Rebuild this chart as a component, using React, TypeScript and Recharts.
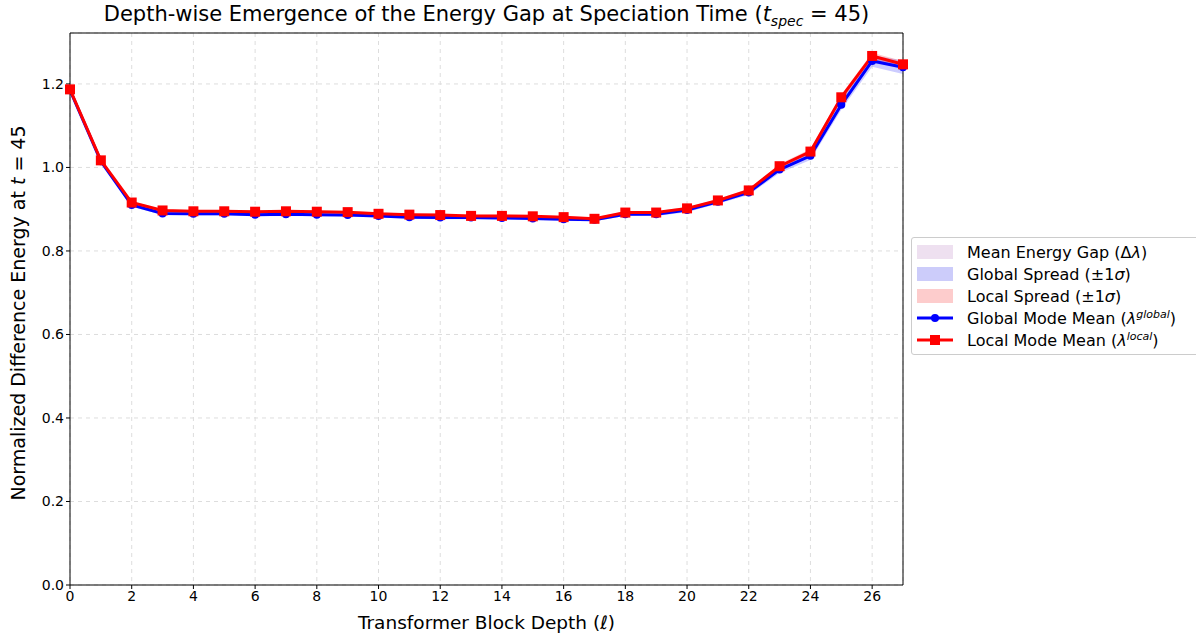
import React from "react"
import {
  Area,
  CartesianGrid,
  ComposedChart,
  Line,
  ReferenceLine,
  XAxis,
  YAxis,
} from "recharts"

const depths = [0, 1, 2, 3, 4, 5, 6, 7, 8, 9, 10, 11, 12, 13, 14, 15, 16, 17, 18, 19, 20, 21, 22, 23, 24, 25, 26, 27]
const globalMean = [1.185, 1.015, 0.91, 0.89, 0.889, 0.889, 0.887, 0.888, 0.887, 0.886, 0.884, 0.881, 0.88, 0.88, 0.879, 0.878, 0.876, 0.875, 0.888, 0.888, 0.898, 0.918, 0.94, 0.995, 1.028, 1.15, 1.255, 1.24]
const localMean = [1.187, 1.017, 0.916, 0.897, 0.895, 0.895, 0.894, 0.895, 0.894, 0.893, 0.889, 0.887, 0.886, 0.884, 0.884, 0.883, 0.881, 0.877, 0.892, 0.892, 0.902, 0.921, 0.945, 1.003, 1.038, 1.168, 1.267, 1.247]
const globalStd = [0.004, 0.004, 0.004, 0.004, 0.004, 0.004, 0.004, 0.004, 0.004, 0.004, 0.004, 0.004, 0.004, 0.004, 0.004, 0.004, 0.004, 0.004, 0.004, 0.004, 0.005, 0.005, 0.006, 0.008, 0.01, 0.012, 0.014, 0.016]
const localStd = [0.003, 0.003, 0.003, 0.003, 0.003, 0.003, 0.003, 0.003, 0.003, 0.003, 0.003, 0.003, 0.003, 0.003, 0.003, 0.003, 0.003, 0.003, 0.003, 0.003, 0.003, 0.003, 0.004, 0.005, 0.006, 0.007, 0.008, 0.008]
const xTicks = [0, 2, 4, 6, 8, 10, 12, 14, 16, 18, 20, 22, 24, 26]
const yTicks = [0, 0.2, 0.4, 0.6, 0.8, 1.0, 1.2]

const data = depths.map((d, i) => ({
  depth: d,
  global: globalMean[i],
  local: localMean[i],
  gap: [Math.min(globalMean[i], localMean[i]), Math.max(globalMean[i], localMean[i])],
  globalBand: [globalMean[i] - globalStd[i], globalMean[i] + globalStd[i]],
  localBand: [localMean[i] - localStd[i], localMean[i] + localStd[i]],
}))

const font = "'DejaVu Sans', sans-serif"

const SquareDot = (props: any) => {
  const { cx, cy } = props
  if (cx == null || cy == null) return null
  return <rect x={cx - 5} y={cy - 5} width={10} height={10} fill="#ff0000" />
}

const legendItems = [
  { kind: "patch", color: "#eee0f0", label: <>Mean Energy Gap (Δ<i>λ</i>)</> },
  { kind: "patch", color: "#ccccfa", label: <>Global Spread (±1<i>σ</i>)</> },
  { kind: "patch", color: "#fdcccc", label: <>Local Spread (±1<i>σ</i>)</> },
  { kind: "circle", color: "#0000ff", label: <>Global Mode Mean (<i>λ</i><sup style={{ fontSize: 11 }}><i>global</i></sup>)</> },
  { kind: "square", color: "#ff0000", label: <>Local Mode Mean (<i>λ</i><sup style={{ fontSize: 11 }}><i>local</i></sup>)</> },
]

const LegendBox = () => (
  <div
    style={{
      position: "absolute",
      left: 911,
      top: 237,
      width: 300,
      height: 113,
      border: "1px solid #cccccc",
      borderRadius: 3,
      background: "#fff",
      padding: "3px 0 0 5px",
      fontFamily: font,
      fontSize: 16,
      color: "#000",
    }}
  >
    {legendItems.map((it, i) => (
      <div key={i} style={{ display: "flex", alignItems: "center", height: 22 }}>
        <svg width={40} height={14} style={{ marginRight: 10 }}>
          {it.kind === "patch" ? (
            <rect x={0} y={0} width={36} height={14} fill={it.color} />
          ) : (
            <>
              <line x1={0} x2={36} y1={7} y2={7} stroke={it.color} strokeWidth={3} />
              {it.kind === "circle" ? (
                <circle cx={18} cy={7} r={4} fill={it.color} />
              ) : (
                <rect x={13} y={2} width={10} height={10} fill={it.color} />
              )}
            </>
          )}
        </svg>
        <span style={{ whiteSpace: "nowrap" }}>{it.label}</span>
      </div>
    ))}
  </div>
)

export default function App() {
  return (
    <div style={{ position: "absolute", left: 0, top: 0, width: 1196, height: 639, background: "#fff", overflow: "hidden" }}>
      <ComposedChart
        width={1196}
        height={639}
        data={data}
        margin={{ top: 33, right: 293, left: 0, bottom: 0 }}
        style={{ position: "absolute", left: 0, top: 0 }}
      >
        <CartesianGrid stroke="#dddddd" strokeDasharray="4 4" />
        <XAxis
          dataKey="depth"
          type="number"
          domain={[0, 27]}
          ticks={xTicks}
          height={54}
          tickSize={4}
          stroke="#000"
          tick={{ fill: "#000", fontSize: 14, fontFamily: font }}
          allowDecimals={false}
        />
        <YAxis
          type="number"
          domain={[0, 1.322]}
          ticks={yTicks}
          width={70}
          tickSize={4}
          stroke="#000"
          tickFormatter={(v: number) => v.toFixed(1)}
          tick={{ fill: "#000", fontSize: 14, fontFamily: font }}
          allowDataOverflow
        />
        <ReferenceLine y={1.322} stroke="#000" />
        <ReferenceLine x={27} stroke="#000" />
        <Area dataKey="gap" stroke="none" fill="#8e44ad" fillOpacity={0.15} isAnimationActive={false} legendType="none" />
        <Area dataKey="globalBand" stroke="none" fill="#0000ff" fillOpacity={0.2} isAnimationActive={false} legendType="none" />
        <Area dataKey="localBand" stroke="none" fill="#ff0000" fillOpacity={0.2} isAnimationActive={false} legendType="none" />
        <Line
          dataKey="global"
          stroke="#0000ff"
          strokeWidth={3}
          dot={{ r: 4, fill: "#0000ff", stroke: "#0000ff", strokeWidth: 0 }}
          isAnimationActive={false}
        />
        <Line
          dataKey="local"
          stroke="#ff0000"
          strokeWidth={3}
          dot={<SquareDot />}
          isAnimationActive={false}
        />
      </ComposedChart>
      <div
        style={{
          position: "absolute",
          left: 70,
          width: 833,
          top: 2,
          textAlign: "center",
          fontFamily: font,
          fontSize: 21,
          color: "#000",
          whiteSpace: "nowrap",
        }}
      >
        Depth-wise Emergence of the Energy Gap at Speciation Time (<i>t</i>
        <sub style={{ fontSize: 14 }}><i>spec</i></sub> = 45)
      </div>
      <div
        style={{
          position: "absolute",
          left: 70,
          width: 833,
          top: 612,
          textAlign: "center",
          fontFamily: font,
          fontSize: 18.5,
          color: "#000",
        }}
      >
        Transformer Block Depth (<i>ℓ</i>)
      </div>
      <div
        style={{
          position: "absolute",
          left: 18,
          top: 313,
          transform: "translate(-50%, -50%) rotate(-90deg)",
          whiteSpace: "nowrap",
          fontFamily: font,
          fontSize: 19,
          color: "#000",
        }}
      >
        Normalized Difference Energy at <i>t</i> = 45
      </div>
      <LegendBox />
    </div>
  )
}
